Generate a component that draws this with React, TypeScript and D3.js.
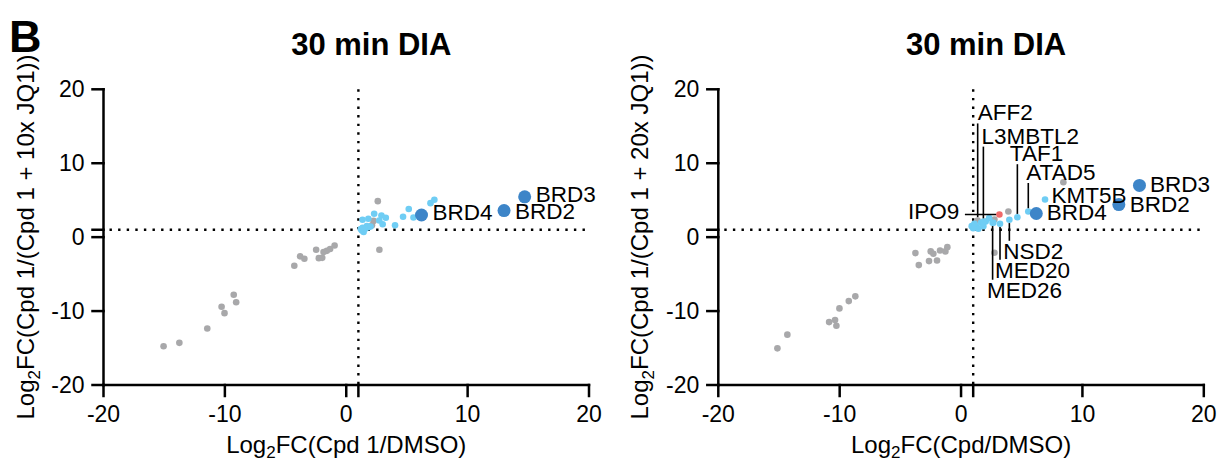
import * as d3 from "d3";

const W = 1219;
const H = 463;

// axes
const tickValues = [-20, -10, 0, 10, 20];
const cutoff = 1;

// left panel: Cpd 1 vs Cpd 1 + 10x JQ1
const leftGray: [number, number][] = [
  [-15.05, -14.75], [-13.75, -14.3], [-11.45, -12.35], [-10.27, -9.42], [-10.03, -10.28],
  [-9.27, -7.8], [-9.07, -8.8], [-4.28, -3.87], [-3.8, -2.6], [-3.45, -2.92],
  [-2.48, -1.71], [-2.26, -2.84], [-1.98, -2.8], [-1.87, -2.0], [-1.6, -1.85],
  [-1.33, -1.6], [-0.96, -1.12], [2.73, -1.71], [2.6, 4.87], [2.25, 2.2], [2.12, 1.6],
];
const leftHits: [number, number][] = [
  [1.34, 2.35], [1.82, 2.48], [2.3, 3.16], [2.72, 2.26], [2.9, 2.93], [3.26, 2.62],
  [3.0, 1.75], [4.02, 1.6], [4.68, 2.75], [5.15, 3.8], [5.54, 2.66], [6.94, 4.6],
  [7.26, 5.06], [1.29, 0.9], [1.57, 1.13], [1.84, 1.35], [1.43, 0.7], [1.2, 1.1],
  [1.7, 1.5], [2.0, 1.45], [1.35, 1.25],
];
const leftBrd: [string, number, number][] = [
  ["BRD4", 6.2, 3.0], ["BRD2", 13.0, 3.6], ["BRD3", 14.7, 5.45],
];

// right panel: Cpd vs Cpd 1 + 20x JQ1
const rightGray: [string, number, number][] = [
  ["", -15.13, -15.04], ["", -14.31, -13.19], ["", -10.87, -11.49], ["", -10.38, -11.21],
  ["", -10.27, -11.98], ["", -10.02, -9.64], ["", -9.25, -8.65], ["", -8.71, -8.01],
  ["", -3.76, -2.16], ["", -3.48, -3.78], ["", -2.64, -3.24], ["", -2.5, -1.93],
  ["", -2.28, -2.24], ["", -1.98, -3.15], ["", -1.73, -1.8], ["", -1.29, -1.93],
  ["", -1.13, -1.35], ["", 8.43, 7.43], ["", 3.9, 3.47], ["AFF2", 1.37, 2.26],
  ["", 2.75, 2.39], ["", 2.75, -2.11],
];
const rightHits: [string, number, number][] = [
  ["", 0.88, 1.49], ["", 1.29, 1.35], ["", 1.65, 1.95], ["", 2.03, 2.12], ["", 2.31, 2.57],
  ["", 1.84, 1.49], ["", 1.43, 1.14], ["", 2.66, 1.95], ["", 1.1, 1.8], ["", 1.0, 1.2],
  ["L3MBTL2", 1.84, 2.1], ["TAF1", 4.64, 2.7], ["ATAD5", 5.54, 3.47], ["KMT5B", 6.92, 5.1],
  ["NSD2", 3.98, 2.35], ["MED20", 3.21, 1.81], ["MED26", 2.6, 1.95],
];
const rightRed: [string, number, number][] = [["IPO9", 3.16, 3.07]];
const rightBrd: [string, number, number][] = [
  ["BRD4", 6.2, 3.2], ["BRD2", 13.0, 4.4], ["BRD3", 14.7, 7.0],
];

type Lab = { name: string; dx: number; dy: number; anchor?: "start" | "end"; leader?: "up" | "down" | "left" };

const leftLabels: Lab[] = [
  { name: "BRD4", dx: 11, dy: 5 },
  { name: "BRD2", dx: 11, dy: 8.5 },
  { name: "BRD3", dx: 11, dy: 5 },
];
const rightLabels: Lab[] = [
  { name: "AFF2", dx: 0, dy: -100, leader: "up" },
  { name: "L3MBTL2", dx: -2, dy: -78, leader: "up" },
  { name: "TAF1", dx: -7.5, dy: -56, leader: "up" },
  { name: "ATAD5", dx: -2, dy: -31.5, leader: "up" },
  { name: "KMT5B", dx: 6.5, dy: 3.5 },
  { name: "BRD4", dx: 10.5, dy: 7 },
  { name: "BRD2", dx: 11, dy: 7 },
  { name: "BRD3", dx: 10.5, dy: 6.5 },
  { name: "IPO9", dx: -40, dy: 5, anchor: "end", leader: "left" },
  { name: "NSD2", dx: -6, dy: 39, leader: "down" },
  { name: "MED20", dx: -5, dy: 54, leader: "down" },
  { name: "MED26", dx: -5.5, dy: 75, leader: "down" },
];

const FONT = "'Liberation Sans', Arial, Helvetica, sans-serif";
const GRAY = "#a8a8aa";
const LIGHT = "#6fcdf4";
const DARK = "#3d85c8";
const RED = "#f06a6a";
const R_SMALL = 3.3;
const R_BIG = 6.5;

type PanelProps = {
  ox: number;
  yLabel: string;
  xLabel: string;
  gray: [string, number, number][];
  hits: [string, number, number][];
  red: [string, number, number][];
  brd: [string, number, number][];
  labels: Lab[];
};

const Panel = ({ ox, yLabel, xLabel, gray, hits, red, brd, labels }: PanelProps) => {
  const x = d3.scaleLinear().domain([-20, 20]).range([ox, ox + 485.5]);
  const y = d3.scaleLinear().domain([-20, 20]).range([385, 89.3]);
  const x0 = x(-20);
  const y0 = y(-20);
  const cx = (x(-20) + x(20)) / 2;

  const all = [...gray, ...hits, ...red, ...brd];
  const find = (n: string) => all.find((d) => d[0] === n)!;
  const isBig = (n: string) => brd.some((d) => d[0] === n);

  return (
    <g fontFamily={FONT}>
      <text x={cx + 25} y={55} fontSize={31} fontWeight="bold" textAnchor="middle">30 min DIA</text>

      {/* reference lines */}
      <line x1={x(cutoff)} x2={x(cutoff)} y1={y(20)} y2={y0} stroke="#000" strokeWidth={2.4} strokeDasharray="2.4 6.2" />
      <line x1={x0 + 6} x2={x(20)} y1={y(cutoff)} y2={y(cutoff)} stroke="#000" strokeWidth={2.4} strokeDasharray="2.4 6.2" />

      {/* points */}
      {gray.map((d, i) => <circle key={"g" + i} cx={x(d[1])} cy={y(d[2])} r={R_SMALL} fill={GRAY} />)}
      {hits.map((d, i) => <circle key={"h" + i} cx={x(d[1])} cy={y(d[2])} r={R_SMALL} fill={LIGHT} />)}
      {red.map((d, i) => <circle key={"r" + i} cx={x(d[1])} cy={y(d[2])} r={R_SMALL} fill={RED} />)}
      {brd.map((d, i) => <circle key={"b" + i} cx={x(d[1])} cy={y(d[2])} r={R_BIG} fill={DARK} />)}

      {/* labels */}
      {labels.map((l) => {
        const d = find(l.name);
        const px = x(d[1]);
        const py = y(d[2]);
        const r = isBig(l.name) ? R_BIG : R_SMALL;
        let leader = null;
        if (l.leader === "up") leader = <line x1={px} x2={px} y1={py + l.dy + 3} y2={py - r} />;
        if (l.leader === "down") leader = <line x1={px} x2={px} y1={py + r} y2={py + l.dy - 18} />;
        if (l.leader === "left") leader = <line x1={px + l.dx + 5.5} x2={px - r} y1={py} y2={py} />;
        return (
          <g key={l.name}>
            {leader && <g stroke="#000" strokeWidth={1.6}>{leader}</g>}
            <text x={px + l.dx} y={py + l.dy} fontSize={22.5} textAnchor={l.anchor || "start"}>{l.name}</text>
          </g>
        );
      })}

      {/* axes */}
      <g stroke="#000" strokeWidth={2.5} strokeLinecap="square">
        <line x1={x0} x2={x(20)} y1={y0} y2={y0} />
        <line x1={x0} x2={x0} y1={y(20)} y2={y0} />
        {[...tickValues, cutoff].map((t) => <line key={"xt" + t} x1={x(t)} x2={x(t)} y1={y0} y2={y0 + 11} />)}
        {[...tickValues, cutoff].map((t) => <line key={"yt" + t} x1={x0 - 11} x2={x0} y1={y(t)} y2={y(t)} />)}
      </g>
      <g fontSize={23}>
        {tickValues.map((t) => <text key={"xl" + t} x={x(t)} y={422} textAnchor="middle">{t}</text>)}
        {tickValues.map((t) => <text key={"yl" + t} x={x0 - 19} y={y(t) + 8} textAnchor="end">{t}</text>)}
      </g>

      {/* axis titles */}
      <text x={cx} y={453} fontSize={24} textAnchor="middle">
        Log<tspan fontSize={17} dy={5}>2</tspan><tspan dy={-5}>{xLabel}</tspan>
      </text>
      <text transform={`translate(${x0 - 70},237) rotate(-90)`} fontSize={24} textAnchor="middle">
        Log<tspan fontSize={17} dy={6}>2</tspan><tspan dy={-6}>{yLabel}</tspan>
      </text>
    </g>
  );
};

export default function App() {
  return (
    <svg width={W} height={H} style={{ position: "absolute", left: 0, top: 0, background: "#fff" }}>
      <text x={9} y={52} fontFamily={FONT} fontSize={45} fontWeight="bold">B</text>
      <Panel
        ox={103.5}
        xLabel="FC(Cpd 1/DMSO)"
        yLabel="FC(Cpd 1/(Cpd 1 + 10x JQ1))"
        gray={leftGray.map((d) => ["", d[0], d[1]] as [string, number, number])}
        hits={leftHits.map((d) => ["", d[0], d[1]] as [string, number, number])}
        red={[]}
        brd={leftBrd}
        labels={leftLabels}
      />
      <Panel
        ox={718.3}
        xLabel="FC(Cpd/DMSO)"
        yLabel="FC(Cpd 1/(Cpd 1 + 20x JQ1))"
        gray={rightGray}
        hits={rightHits}
        red={rightRed}
        brd={rightBrd}
        labels={rightLabels}
      />
    </svg>
  );
}
